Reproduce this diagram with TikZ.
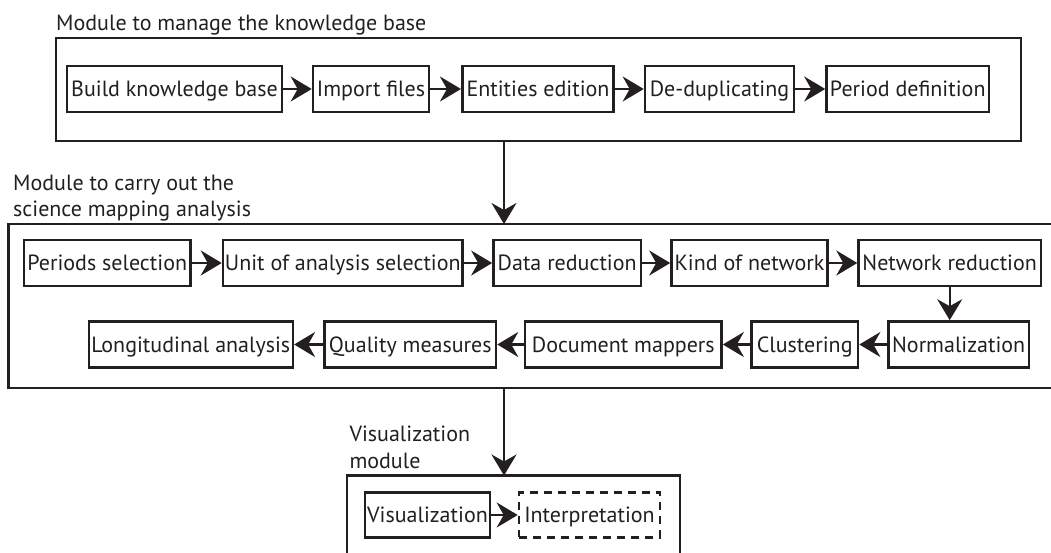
\documentclass[tikz,border=0pt]{standalone}
\usepackage{fontspec}
\setmainfont{PT Sans}
\usetikzlibrary{arrows.meta}
\definecolor{ink}{RGB}{35,31,32}
\begin{document}
\begin{tikzpicture}[x=1pt,y=-1pt,
  every node/.style={text=ink, font=\fontsize{22}{26.7}\selectfont},
  stepbox/.style={draw=ink, line width=2.6pt, inner sep=0pt, minimum height=46pt,
    text height=20pt, text depth=4.6pt},
  dashbox/.style={stepbox, dash pattern=on 8pt off 6pt},
  module/.style={draw=ink, line width=2.4pt},
  title/.style={inner sep=0pt, align=left, text depth=0pt, anchor=south west},
  arr/.style={draw=ink, line width=2.3pt, -{Stealth[length=21pt,width=25pt,inset=7pt]}}]
\useasboundingbox (0,0) rectangle (1051,552);

% ---------- Module 1 ----------
\node[title] (t1) at (56,30.5) {Module to manage the knowledge base};
\node[module, inner sep=0pt, minimum width=964.5pt, minimum height=102.5pt, anchor=north west] (m1) at (55,37) {};
\node[stepbox, minimum width=215pt]   (b1) at (174.5,89) {Build knowledge base};
\node[stepbox, minimum width=116pt]   (b2) at (371,89) {Import files};
\node[stepbox, minimum width=151.5pt] (b3) at (538,89) {Entities edition};
\node[stepbox, minimum width=149pt]   (b4) at (719.5,89) {De-duplicating};
\node[stepbox, minimum width=162.5pt] (b5) at (907.75,89) {Period definition};
\draw[arr] (b1.east) -- (b2.west);
\draw[arr] (b2.east) -- (b3.west);
\draw[arr] (b3.east) -- (b4.west);
\draw[arr] (b4.east) -- (b5.west);

% ---------- Module 2 ----------
\node[title] (t2) at (13,217) {Module to carry out the\\science mapping analysis};
\draw[module] (1054,224) -- (8.6,224) -- (8.6,388) -- (1054,388);
\coordinate (m2top) at (504,224);
\coordinate (m2bot) at (504,388);
\draw[arr] (m1.south -| m2top) -- (m2top);

\node[stepbox, minimum width=166.4pt] (p1) at (107.2,263) {Periods selection};
\node[stepbox, minimum width=239.5pt] (p2) at (342.8,263) {Unit of analysis selection};
\node[stepbox, minimum width=147.5pt] (p3) at (567.2,263) {Data reduction};
\node[stepbox, minimum width=156pt]   (p4) at (749.5,263) {Kind of network};
\node[stepbox, minimum width=182.2pt] (p5) at (949.7,263) {Network reduction};

\node[stepbox, minimum width=204pt]   (q1) at (190.8,344.5) {Longitudinal analysis};
\node[stepbox, minimum width=171.3pt] (q2) at (410.3,344.5) {Quality measures};
\node[stepbox, minimum width=196.5pt] (q3) at (623.3,344.5) {Document mappers};
\node[stepbox, minimum width=106.7pt] (q4) at (804.7,344.5) {Clustering};
\node[stepbox, minimum width=140.6pt] (q5) at (958.7,344.5) {Normalization};

\draw[arr] (p1.east) -- (p2.west);
\draw[arr] (p2.east) -- (p3.west);
\draw[arr] (p3.east) -- (p4.west);
\draw[arr] (p4.east) -- (p5.west);
\draw[arr] (p5.south) -- (p5.south |- q5.north);
\draw[arr] (q5.west) -- (q4.east);
\draw[arr] (q4.west) -- (q3.east);
\draw[arr] (q3.west) -- (q2.east);
\draw[arr] (q2.west) -- (q1.east);

% ---------- Module 3 ----------
\node[title] (t3) at (349.3,468.5) {Visualization\\module};
\draw[module] (347,555) -- (347,475.5) -- (680,475.5) -- (680,555);
\coordinate (m3top) at (504,475.5);
\draw[arr] (m2bot) -- (m3top);

\node[stepbox, minimum width=125pt, minimum height=44.6pt] (v1) at (427.5,515) {Visualization};
\node[dashbox, minimum width=141pt, minimum height=44.6pt] (v2) at (589.5,515) {Interpretation};
\draw[arr] (v1.east) -- (v2.west);
\end{tikzpicture}
\end{document}
